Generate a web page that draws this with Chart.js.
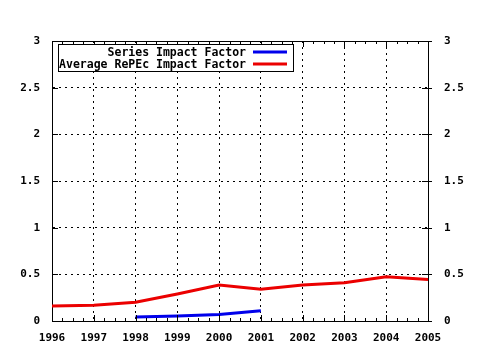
<!DOCTYPE html>
<html>
<head>
<meta charset="utf-8">
<script src="https://cdn.jsdelivr.net/npm/chart.js@4.4.0/dist/chart.umd.min.js"></script>
<style>
    body { margin: 0; background: #fff; }
    canvas { display: block; }
</style>
</head>
<body>
<canvas id="chart" width="480" height="350"></canvas>
<script>
// Data
const years = [1996, 1997, 1998, 1999, 2000, 2001, 2002, 2003, 2004, 2005];
const avgRepec = [0.16, 0.17, 0.20, 0.29, 0.385, 0.34, 0.385, 0.41, 0.475, 0.445];
const seriesYears = [1998, 1999, 2000, 2001];
const seriesImpact = [0.043, 0.054, 0.07, 0.11];
const yTicks = [0, 0.5, 1, 1.5, 2, 2.5, 3];

const seriesLabel = "Series Impact Factor";
const avgLabel = "Average RePEc Impact Factor";

Chart.defaults.font.family = "'DejaVu Sans Mono', 'Liberation Mono', monospace";
Chart.defaults.font.size = 11;
Chart.defaults.font.weight = "bold";
Chart.defaults.color = "#000";

function toPoints(xs, ys) {
    return xs.map((x, i) => ({ x: x, y: ys[i] }));
}

// gnuplot-like frame: top border, inward ticks, quarter-year minor ticks
const framePlugin = {
    id: "frame",
    afterDatasetsDraw(chart) {
        const ctx = chart.ctx;
        const a = chart.chartArea;
        const xs = chart.scales.x;
        const ys = chart.scales.y;
        ctx.save();
        ctx.strokeStyle = "#000";
        ctx.lineWidth = 1;
        ctx.beginPath();
        ctx.moveTo(a.left, a.top + 0.5);
        ctx.lineTo(a.right, a.top + 0.5);
        for (let v = years[0]; v <= years[years.length - 1] + 0.001; v += 0.25) {
            const px = Math.round(xs.getPixelForValue(v)) + 0.5;
            const len = Number.isInteger(v) ? 6 : 3;
            ctx.moveTo(px, a.bottom);
            ctx.lineTo(px, a.bottom - len);
            ctx.moveTo(px, a.top);
            ctx.lineTo(px, a.top + len);
        }
        yTicks.forEach((v) => {
            const py = Math.round(ys.getPixelForValue(v)) + 0.5;
            ctx.moveTo(a.left, py);
            ctx.lineTo(a.left + 6, py);
            ctx.moveTo(a.right - 6, py);
            ctx.lineTo(a.right + 4, py);
        });
        ctx.stroke();
        ctx.restore();
    },
    afterDraw(chart) {
        // legend box: right-aligned label then line sample
        const ctx = chart.ctx;
        const box = { x: 58.5, y: 44.5, w: 235, h: 27 };
        ctx.save();
        ctx.fillStyle = "#fff";
        ctx.fillRect(box.x, box.y, box.w, box.h);
        ctx.strokeStyle = "#000";
        ctx.lineWidth = 1;
        ctx.strokeRect(box.x, box.y, box.w, box.h);
        ctx.font = "bold 11.5px 'DejaVu Sans Mono', 'Liberation Mono', monospace";
        ctx.textAlign = "right";
        ctx.textBaseline = "middle";
        chart.data.datasets.forEach((ds, i) => {
            const cy = 52 + i * 12;
            ctx.fillStyle = "#000";
            ctx.fillText(ds.label, 246, cy + 1);
            ctx.strokeStyle = ds.borderColor;
            ctx.lineWidth = 3;
            ctx.beginPath();
            ctx.moveTo(253, cy);
            ctx.lineTo(287, cy);
            ctx.stroke();
        });
        ctx.restore();
    }
};

const yAxisCommon = {
    type: "linear",
    min: 0,
    max: 3,
    ticks: {
        stepSize: 0.5,
        callback: (v) => String(v)
    },
    afterFit: (scale) => { scale.width = 52; }
};

new Chart(document.getElementById("chart"), {
    type: "line",
    data: {
        datasets: [
            {
                label: seriesLabel,
                data: toPoints(seriesYears, seriesImpact),
                borderColor: "rgb(0, 0, 235)",
                borderWidth: 3,
                pointRadius: 0,
                tension: 0
            },
            {
                label: avgLabel,
                data: toPoints(years, avgRepec),
                borderColor: "rgb(235, 0, 0)",
                borderWidth: 3,
                pointRadius: 0,
                tension: 0
            }
        ]
    },
    options: {
        responsive: false,
        animation: false,
        layout: { padding: { top: 41, left: 0, right: 0, bottom: 0 } },
        plugins: {
            legend: { display: false },
            tooltip: { enabled: false }
        },
        scales: {
            x: {
                type: "linear",
                min: years[0],
                max: years[years.length - 1],
                ticks: { stepSize: 1, padding: 11, callback: (v) => String(v) },
                grid: { color: "#000", drawTicks: false },
                border: { display: true, color: "#000", dash: [2, 4] },
                afterFit: (scale) => { scale.height = 29; }
            },
            y: Object.assign({}, yAxisCommon, {
                position: "left",
                ticks: Object.assign({}, yAxisCommon.ticks, { padding: 12 }),
                grid: { color: "#000", drawTicks: false },
                border: { display: true, color: "#000", dash: [2, 4] }
            }),
            y2: Object.assign({}, yAxisCommon, {
                position: "right",
                ticks: Object.assign({}, yAxisCommon.ticks, { padding: 16 }),
                grid: { display: false, drawTicks: false },
                border: { display: true, color: "#000" }
            })
        }
    },
    plugins: [framePlugin]
});
</script>
</body>
</html>
